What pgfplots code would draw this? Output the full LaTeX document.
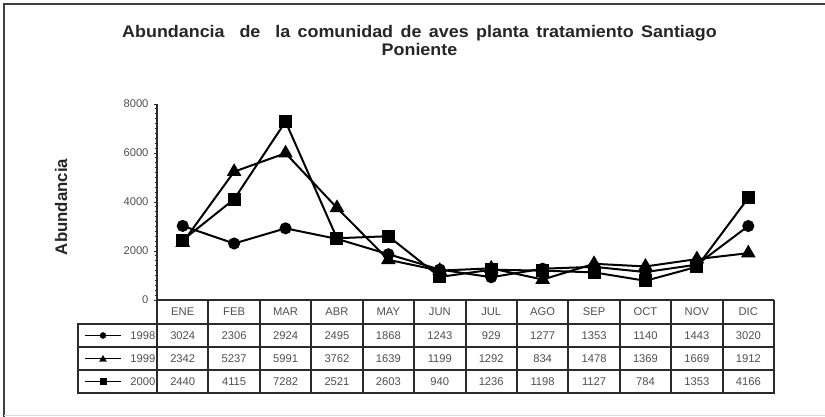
\documentclass[border=0pt]{standalone}
\usepackage{pgfplots}
\usepackage{pgfplotstable}
\pgfplotsset{compat=1.18}
\usepackage{fontspec}
\setmainfont{Liberation Sans}
\definecolor{txt}{HTML}{505050}
\definecolor{rule}{HTML}{2A2A2A}

\pgfplotstableread{
mes  a1998 a1999 a2000
ENE  3024  2342  2440
FEB  2306  5237  4115
MAR  2924  5991  7282
ABR  2495  3762  2521
MAY  1868  1639  2603
JUN  1243  1199  940
JUL  929   1292  1236
AGO  1277  834   1198
SEP  1353  1478  1127
OCT  1140  1369  784
NOV  1443  1669  1353
DIC  3020  1912  4166
}\datos

\begin{document}
\begin{tikzpicture}[x=1pt,y=1pt]
\useasboundingbox (0,0) rectangle (825,417);
\fill[white] (0,0) rectangle (825,417);
% frame
\draw[line width=1.5pt, black!75] (4,0) -- (4,413) -- (825,413);
\draw[line width=1pt, black!15] (4,1.5) -- (825,1.5);
% title
\node[anchor=base, font=\bfseries\fontsize{16.8}{18}\selectfont, text=black!85, inner sep=0pt] at (419.5,379)
  {\scalebox{1.065}[1]{\spaceskip=7pt Abundancia\ \ de\ \ la comunidad de aves planta tratamiento Santiago}};
\node[anchor=base, font=\bfseries\fontsize{16.8}{18}\selectfont, text=black!85, inner sep=0pt] at (419.5,361)
  {\scalebox{1.065}[1]{Poniente}};
% y label
\node[rotate=90, font=\bfseries\fontsize{16.8}{18}\selectfont, text=black!85] at (61,210) {Abundancia};

\begin{axis}[
  at={(157pt,117pt)}, anchor=south west,
  scale only axis, width=617pt, height=196pt,
  xmin=0, xmax=12, ymin=0, ymax=8000,
  axis y line*=left, axis x line=none,
  axis line style={line width=1.5pt, rule},
  ytick={0,2000,4000,6000,8000},
  minor y tick num=9,
  tick align=outside,
  major tick length=3pt, minor tick length=2.5pt,
  every tick/.style={rule, line width=0.9pt},
  scaled y ticks=false,
  /pgf/number format/assume math mode=true,
  /pgf/number format/set thousands separator={},
  y tick label style={font=\fontsize{11.2}{12}\selectfont, text=txt, xshift=-2pt},
  clip=false,
]
\addplot[black, line width=2pt, mark=*, mark size=5pt]
  table[x expr=\coordindex+0.5, y=a1998] {\datos};
\addplot[black, line width=2pt, mark=triangle*, mark size=6.5pt]
  table[x expr=\coordindex+0.5, y=a1999] {\datos};
\addplot[black, line width=2pt, mark=square*, mark size=5.5pt]
  table[x expr=\coordindex+0.5, y=a2000] {\datos};
\end{axis}

% table grid
\def\cw{51.4167}
\begin{scope}[line width=2pt, rule]
\draw (157,117) -- (774,117);
\draw (77,93) -- (775,93);
\draw (77,70) -- (775,70);
\draw (77,47) -- (775,47);
\draw (77,24) -- (775,24);
\draw (78,23) -- (78,94);
\foreach \k in {0,...,12} {\draw ({157+\k*\cw},23) -- ({157+\k*\cw},117);}
\end{scope}

% table text
\foreach \i in {0,...,11} {
  \pgfmathsetmacro{\xc}{157+(\i+0.5)*\cw}
  \pgfplotstablegetelem{\i}{mes}\of\datos
  \node[font=\fontsize{11.2}{12}\selectfont, text=txt] at (\xc,105.5) {\pgfplotsretval};
  \pgfplotstablegetelem{\i}{a1998}\of\datos
  \node[font=\fontsize{11.2}{12}\selectfont, text=txt] at (\xc,81.5) {\pgfplotsretval};
  \pgfplotstablegetelem{\i}{a1999}\of\datos
  \node[font=\fontsize{11.2}{12}\selectfont, text=txt] at (\xc,58.5) {\pgfplotsretval};
  \pgfplotstablegetelem{\i}{a2000}\of\datos
  \node[font=\fontsize{11.2}{12}\selectfont, text=txt] at (\xc,35.5) {\pgfplotsretval};
}

% legend keys in table
\foreach \yy/\mk/\ms/\yr in {81.5/*/3pt/1998, 58.5/triangle*/4pt/1999, 35.5/square*/3.2pt/2000} {
  \draw[black, line width=1.8pt] (85,\yy) -- (121,\yy);
  \node[inner sep=0pt] at (103,\yy) {\tikz[black]{\pgfsetplotmarksize{\ms}\pgfuseplotmark{\mk}}};
  \node[anchor=east, font=\fontsize{11.2}{12}\selectfont, text=txt, inner sep=0.5pt] at (156,\yy) {\yr};
}
\end{tikzpicture}
\end{document}
